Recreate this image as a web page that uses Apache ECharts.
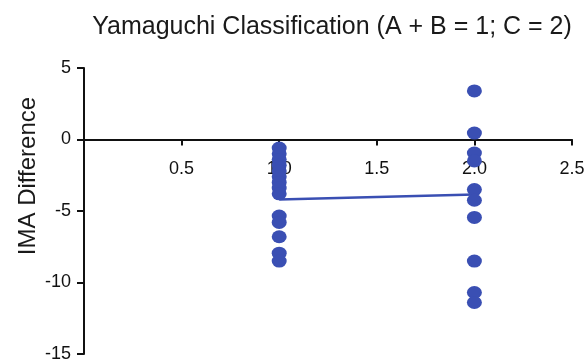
<!DOCTYPE html>
<html>
<head>
<meta charset="utf-8">
<script src="https://cdn.jsdelivr.net/npm/echarts@6/dist/echarts.min.js"></script>
<style>
html,body{margin:0;padding:0;background:#ffffff;}
#chart{width:587px;height:360px;}
</style>
</head>
<body>
<div id="chart"></div>
<script>
var titleText = 'Yamaguchi Classification (A + B = 1; C = 2)';
var yAxisName = 'IMA Difference';
var groupX = [1, 2];
var groupAB = [-0.6, -1.0, -1.4, -1.8, -2.2, -2.6, -3.0, -3.4, -3.8, -5.35, -5.8, -6.8, -7.95, -8.5];
var groupC = [3.4, 0.45, -0.95, -1.5, -3.5, -4.25, -5.45, -8.5, -10.7, -11.4];
var meanValues = [-4.2, -3.85];
var yMin = -15, yMax = 5;

var pts = [];
groupAB.forEach(function (v) { pts.push([groupX[0], v]); });
groupC.forEach(function (v) { pts.push([groupX[1], v]); });
var meanLine = [[groupX[0], meanValues[0]], [groupX[1], meanValues[1]]];

var blue = '#3a4fb3';
var font = 'Liberation Sans, Arial, Helvetica, sans-serif';
var W = 587, H = 360;
var gridTop = 68, gridBottom = 6;
var plotH = H - gridTop - gridBottom;
var zeroPx = gridTop + plotH * (yMax - 0) / (yMax - yMin);
var xAxisOffset = -((H - gridBottom) - zeroPx);

var chart = echarts.init(document.getElementById('chart'), null, {renderer: 'canvas'});
chart.setOption({
  animation: false,
  backgroundColor: '#ffffff',
  title: {
    text: titleText,
    left: 327, top: 10, textAlign: 'center',
    textStyle: {fontFamily: font, fontSize: 25, fontWeight: 'normal', color: '#1a1a1a'}
  },
  graphic: [{
    type: 'text', x: 28, y: 176, rotation: Math.PI / 2,
    style: {text: yAxisName, align: 'center', verticalAlign: 'middle',
      fontFamily: font, fontSize: 24, fill: '#1a1a1a'}
  }],
  grid: {left: 84, right: 15, top: gridTop, bottom: gridBottom, containLabel: false, outerBoundsMode: 'none'},
  xAxis: {
    type: 'value', min: 0, max: 2.5, interval: 0.5, position: 'bottom', offset: xAxisOffset,
    axisLine: {onZero: false, lineStyle: {color: '#111', width: 2}},
    axisTick: {show: true, length: 6, lineStyle: {color: '#111', width: 2}},
    axisLabel: {
      margin: 21, fontFamily: font, fontSize: 18, color: '#111',
      formatter: function (v) { return v === 0 ? '' : v.toFixed(1); }
    },
    splitLine: {show: false}
  },
  yAxis: {
    type: 'value', min: yMin, max: yMax, interval: 5,
    axisLine: {onZero: false, lineStyle: {color: '#111', width: 2}},
    axisTick: {show: true, length: 7, lineStyle: {color: '#111', width: 2}},
    axisLabel: {margin: 13, fontFamily: font, fontSize: 18, color: '#111'},
    splitLine: {show: false}
  },
  series: [
    {
      type: 'line', data: meanLine, symbol: 'none',
      lineStyle: {color: blue, width: 2.5}, z: 3
    },
    {
      type: 'scatter', data: pts, symbol: 'circle', symbolSize: [15, 13],
      itemStyle: {color: blue, opacity: 1}, z: 4
    }
  ]
});
</script>
</body>
</html>
